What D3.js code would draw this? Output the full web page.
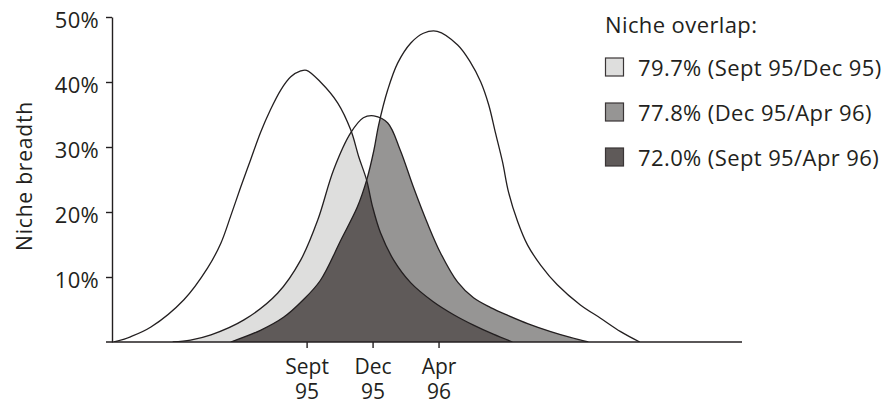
<!DOCTYPE html>
<html>
<head>
<meta charset="utf-8">
<script src="https://cdn.jsdelivr.net/npm/d3@7"></script>
<style>
  body { margin: 0; background: #fff; }
  text { font-family: "Open Sans", sans-serif; fill: #231f20; }
</style>
</head>
<body>
<svg id="chart-area"></svg>
<script>
// sampling periods (x = period index, Sept 95 = 0)
const periods = [0, 1, 2]
const periodLabels = [["Sept", "95"], ["Dec", "95"], ["Apr", "96"]]

// niche breadth curves: [period, breadth %]
const sept95 = [[-2.92,0],[-2.67,0.8],[-2.36,2.3],[-1.86,6.5],[-1.50,11.4],[-1.30,15.2],[-1.15,19.4],
  [-1.00,23.8],[-0.85,28.0],[-0.70,32.2],[-0.55,35.7],[-0.39,38.8],[-0.24,40.8],[-0.09,41.7],[0.00,41.8],
  [0.21,40.0],[0.47,36.8],[0.67,32.6],[0.79,28.5],[0.91,24.9],[1.00,20.8],[1.12,16.8],[1.32,12.6],
  [1.58,9.1],[1.92,6.2],[2.23,4.2],[2.53,2.6],[2.83,1.2],[3.12,0]]
const dec95 = [[-2.03,0],[-1.76,0.3],[-1.45,1.1],[-0.95,3.4],[-0.44,7.5],[-0.09,12.6],[0.17,18.8],
  [0.41,26.5],[0.67,32.2],[0.86,34.5],[1.02,34.8],[1.23,33.7],[1.42,29.5],[1.62,23.8],[1.83,18.3],
  [2.03,13.7],[2.29,9.2],[2.53,6.8],[2.79,5.3],[3.05,4.1],[3.36,2.8],[3.70,1.6],[4.00,0.7],[4.27,0]]
const apr96 = [[-1.15,0],[-0.70,1.8],[-0.35,3.8],[-0.05,6.5],[0.21,9.5],[0.52,15.7],[0.77,20.8],
  [0.91,24.9],[1.02,29.5],[1.09,33.3],[1.23,38.8],[1.38,42.9],[1.58,46.0],[1.77,47.5],[1.98,47.8],
  [2.29,45.7],[2.48,43.1],[2.64,40.0],[2.76,36.5],[2.86,32.3],[2.97,27.7],[3.06,23.1],[3.20,18.5],
  [3.35,14.9],[3.55,11.8],[3.80,8.8],[4.15,5.7],[4.45,3.7],[4.76,1.6],[5.05,0]]

const yTicks = [10, 20, 30, 40, 50]
const overlapValues = ["79.7%", "77.8%", "72.0%"]
const overlapPairs = ["(Sept 95/Dec 95)", "(Dec 95/Apr 96)", "(Sept 95/Apr 96)"]
const overlapColors = ["#dededd", "#969594", "#5f5a59"]

const svgWidth = 890
const svgHeight = 405
const margin = { left: 112, right: 148, top: 17, bottom: 63 }

const svg = d3.select("#chart-area")
  .attr("width", svgWidth)
  .attr("height", svgHeight)

const xScale = d3.scaleLinear()
  .domain([-2.95, 6.6])
  .range([margin.left, svgWidth - margin.right])

const yScale = d3.scaleLinear()
  .domain([0, 50])
  .range([svgHeight - margin.bottom, margin.top])

const smooth = d3.curveCatmullRom.alpha(0.5)

const area = d3.area()
  .x(d => xScale(d[0]))
  .y0(yScale(0))
  .y1(d => yScale(d[1]))
  .curve(smooth)

const line = d3.line()
  .x(d => xScale(d[0]))
  .y(d => yScale(d[1]))
  .curve(smooth)

// clip to the plot (keeps tails from dipping under the baseline)
const defs = svg.append("defs")
defs.append("clipPath").attr("id", "clip-plot")
  .append("rect")
  .attr("x", margin.left)
  .attr("y", 0)
  .attr("width", svgWidth - margin.left)
  .attr("height", yScale(0))

// clip paths = area under each curve
const curves = { sept: sept95, dec: dec95, apr: apr96 }
Object.entries(curves).forEach(([key, data]) => {
  defs.append("clipPath").attr("id", "clip-" + key)
    .append("path").attr("d", area(data))
})

const plot = svg.append("g").attr("clip-path", "url(#clip-plot)")

// overlaps: light = Sept/Dec, mid = Dec/Apr, dark = Sept/Apr
const overlaps = [["sept", "dec"], ["dec", "apr"], ["sept", "apr"]]
overlaps.forEach(([a, b], i) => {
  plot.append("path")
    .attr("d", area(curves[a]))
    .attr("clip-path", `url(#clip-${b})`)
    .attr("fill", overlapColors[i])
})

// curve outlines
Object.values(curves).forEach(data => {
  plot.append("path")
    .attr("d", line(data))
    .attr("fill", "none")
    .attr("stroke", "#231f20")
    .attr("stroke-width", 1.3)
})

// y axis
const yAxis = svg.append("g")
  .attr("transform", `translate(${margin.left},0)`)
  .call(d3.axisLeft(yScale).tickValues(yTicks).tickSize(6).tickSizeOuter(0)
    .tickPadding(7).tickFormat(d => d + "%"))
yAxis.select(".domain").attr("stroke", "#231f20").attr("stroke-width", 1.4)
yAxis.selectAll(".tick line").attr("stroke", "#231f20").attr("stroke-width", 1.4)
yAxis.selectAll(".tick text")
  .attr("font-size", 22)
  .attr("font-family", "Open Sans")
  .attr("dy", "0.47em")
  .attr("letter-spacing", "0.3px")

svg.append("text")
  .attr("transform", "translate(32,176) rotate(-90)")
  .attr("text-anchor", "middle")
  .attr("font-size", 21)
  .attr("letter-spacing", "0.8px")
  .text("Niche breadth")

// x axis
const xAxis = svg.append("g")
  .attr("transform", `translate(0,${yScale(0)})`)
  .call(d3.axisBottom(xScale).tickValues(periods).tickSize(6).tickSizeOuter(0).tickFormat(""))
xAxis.select(".domain").remove()
xAxis.selectAll(".tick line").attr("stroke", "#231f20").attr("stroke-width", 1.4)
xAxis.append("line")
  .attr("x1", margin.left - 6)
  .attr("x2", svgWidth - margin.right)
  .attr("stroke", "#231f20")
  .attr("stroke-width", 1.4)

xAxis.selectAll(".tick").append("text")
  .attr("text-anchor", "middle")
  .attr("font-size", 21)
  .attr("font-family", "Open Sans")
  .attr("fill", "#231f20")
  .selectAll("tspan")
  .data(d => periodLabels[periods.indexOf(d)])
  .join("tspan")
  .attr("x", 0)
  .attr("y", (d, i) => 32 + i * 25)
  .text(d => d)

// legend
const legend = svg.append("g").attr("transform", "translate(605,0)")
legend.append("text")
  .attr("x", 0)
  .attr("y", 33)
  .attr("font-size", 22)
  .attr("letter-spacing", "0.4px")
  .text("Niche overlap:")

const rows = legend.selectAll(".row")
  .data(overlapValues)
  .join("g")
  .attr("class", "row")
  .attr("transform", (d, i) => `translate(0,${76 + i * 45})`)

rows.append("rect")
  .attr("x", 0.5)
  .attr("y", -18)
  .attr("width", 18)
  .attr("height", 18)
  .attr("fill", (d, i) => overlapColors[i])
  .attr("stroke", "#3a3536")
  .attr("stroke-width", 1.2)

rows.append("text")
  .attr("x", 33)
  .attr("y", 0)
  .attr("font-size", 22)
  .attr("letter-spacing", "0.4px")
  .text((d, i) => d + " " + overlapPairs[i])
</script>
</body>
</html>
